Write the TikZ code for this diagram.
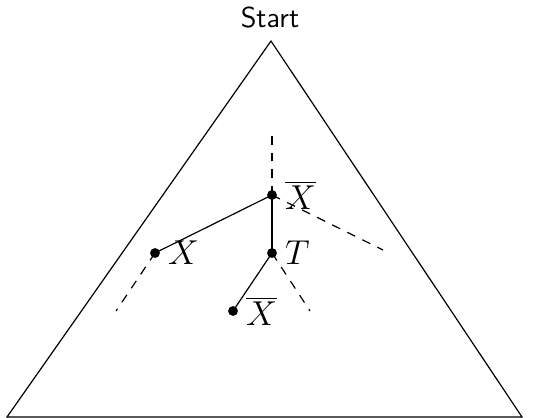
\documentclass[tikz,border=0pt]{standalone}
\begin{document}
\begin{tikzpicture}[x=0.4167pt, y=-0.4167pt,
  dot/.style={circle, fill=black, inner sep=0pt, minimum size=4.1pt},
  lbl/.style={label distance=0.6pt, font=\Large, inner sep=2.4pt},
  branch/.style={line width=0.5pt},
  open/.style={line width=0.5pt, dash pattern=on 3.7pt off 3.3pt}]
  \useasboundingbox (0,0) rectangle (534,418);

  % outer triangle
  \coordinate (apex) at (271,41);
  \coordinate (bl) at (7,417);
  \coordinate (br) at (522,417);
  \draw[line width=0.5pt] (apex) -- (bl) -- (br) -- cycle;
  \node[font=\sffamily\large, anchor=base] (start) at (270,28) {Start};

  % tree nodes
  \node[dot, label={[lbl]right:$\overline{X}$}] (a) at (272,195) {};
  \node[dot, label={[lbl]right:$X$}] (l) at (155,253) {};
  \node[dot, label={[lbl]right:$T$}] (t) at (272,253) {};
  \node[dot, label={[lbl]right:$\overline{X}$}] (b) at (233,311) {};

  % loose ends of the dashed branches
  \coordinate (up) at (272,135);
  \coordinate (ar) at (383,250);
  \coordinate (ll) at (116,311);
  \coordinate (tr) at (310,311);

  % solid branches
  \draw[branch] (a.center) -- (l.center);
  \draw[branch] (a.center) -- (t.center);
  \draw[branch] (t.center) -- (b.center);

  % dashed branches
  \draw[open] (a.center) -- (up);
  \draw[open] (a.center) -- (ar);
  \draw[open] (l.center) -- (ll);
  \draw[open] (t.center) -- (tr);
\end{tikzpicture}
\end{document}
